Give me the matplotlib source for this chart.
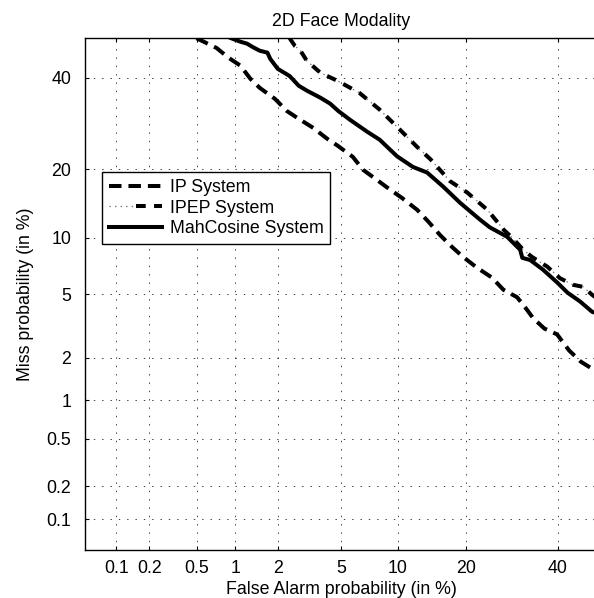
"""
DET curves for the 2D face modality (IP, IPEP and MahCosine systems)
"""

import math
import numpy as np
import matplotlib
matplotlib.use('Agg')
import matplotlib.pyplot as plt
from matplotlib.legend_handler import HandlerTuple
from statistics import NormalDist


#---------------------------------------------------------------------------------------------------
# Input Parameters
#---------------------------------------------------------------------------------------------------

# False alarm / miss probabilities (in %)
ip_fa = [0.5, 0.72, 0.89, 1.09, 1.29, 1.5, 1.92, 2.3, 2.7, 3.4, 4.13, 4.75, 5.8, 6.6, 7.85, 8.9,
         10.5, 12.35, 13.9, 15.6, 17.5, 19.4, 22.0, 24.9, 27.3, 30.3, 32.1, 34.0, 36.7, 39.8, 40.8,
         42.8, 45.8, 48.4, 50]
ip_miss = [50, 47.5, 45, 43, 39.7, 37.5, 34.8, 32, 30.4, 28.2, 25.9, 24.5, 22.3, 19.9, 18.1, 16.8,
           15.2, 13.5, 11.9, 10.3, 9.0, 8.0, 7.0, 6.2, 5.3, 4.8, 4.2, 3.6, 3.1, 2.85, 2.63,
           2.24, 1.88, 1.7, 1.65]

ipep_fa = [2.4, 2.6, 2.8, 3.1, 3.76, 4.75, 6.3, 8.1, 10.25, 12.3, 14.2, 17.2, 20.1, 24.0, 27.4,
           29.2, 31.7, 33.7, 37.4, 40.5, 43.8, 46.4, 48.7, 50]
ipep_miss = [50, 48, 47, 44.2, 41.2, 39.2, 36.3, 32.3, 27.8, 24.3, 21.8, 17.9, 16.1, 13.5, 10.9,
             10.0, 8.7, 8.0, 7.1, 6.15, 5.65, 5.5, 4.95, 4.7]

mah_fa = [0.93, 1.09, 1.22, 1.33, 1.5, 1.7, 1.78, 2.0, 2.4, 2.75, 3.1, 3.76, 4.3, 4.8, 5.6, 6.95,
          8.1, 9.9, 11.8, 13.7, 16.1, 18.9, 22.6, 24.5, 28.1, 31.0, 31.5, 33.3, 36.4, 39.9, 42.4,
          45.6, 48.7, 50]
mah_miss = [50, 49.1, 48.6, 47.8, 46.8, 46.3, 44.7, 42.2, 40.4, 38.0, 36.8, 35.1, 33.7, 32, 30,
            27.4, 25.7, 22.4, 20.4, 19.4, 17.0, 14.5, 12.15, 11.2, 10.1, 8.7, 7.9, 7.7, 6.83, 5.8,
            5.1, 4.53, 3.93, 3.85]

tick_vals = [0.1, 0.2, 0.5, 1, 2, 5, 10, 20, 40]
tick_labels = ['0.1', '0.2', '0.5', '1', '2', '5', '10', '20', '40']
lims = [0.05, 50]

save_fname = 'out.png'


#---------------------------------------------------------------------------------------------------
# Probit scale helpers
#---------------------------------------------------------------------------------------------------

_inv_cdf = np.vectorize(NormalDist().inv_cdf, otypes=[float])
_erf = np.vectorize(math.erf, otypes=[float])


def probit(pct):
    p = np.clip(np.asarray(pct, dtype=float) / 100., 1e-9, 1 - 1e-9)
    return _inv_cdf(p)


def inv_probit(z):
    z = np.asarray(z, dtype=float)
    return 100. * 0.5 * (1 + _erf(z / math.sqrt(2)))


#---------------------------------------------------------------------------------------------------
# Create Plot
#---------------------------------------------------------------------------------------------------

if __name__ == '__main__':

    plt.rcParams['font.family'] = ['Liberation Sans', 'DejaVu Sans']
    plt.rcParams['lines.scale_dashes'] = False
    fs = 12.8

    fig = plt.figure(figsize=(5.94, 5.98), dpi=100)
    ax = fig.add_axes([85.3/594, 47.8/598, 512/594, 512/598])

    ax.set_xscale('function', functions=(probit, inv_probit))
    ax.set_yscale('function', functions=(probit, inv_probit))

    lw = 2.9
    l_ip, = ax.plot(ip_fa, ip_miss, c='k', lw=lw, dashes=(9, 5), solid_capstyle='butt')
    l_ipep_dot, = ax.plot(ipep_fa, ipep_miss, c='0.45', lw=0.9, dashes=(1, 3))
    l_ipep, = ax.plot(ipep_fa, ipep_miss, c='k', lw=lw, dashes=(7, 6))
    l_mah, = ax.plot(mah_fa, mah_miss, c='k', lw=lw)

    ax.set_xlim(lims)
    ax.set_ylim(lims)
    ax.set_xticks(tick_vals)
    ax.set_xticklabels(tick_labels)
    ax.set_yticks(tick_vals)
    ax.set_yticklabels(tick_labels)
    ax.minorticks_off()
    ax.tick_params(direction='in', length=3, width=0.8, labelsize=fs, top=True, right=True)
    ax.tick_params(axis='y', pad=10)
    ax.tick_params(axis='x', pad=7)
    ax.grid(True, color='0.25', lw=0.7, linestyle=(0, (1, 5)))
    for sp in ax.spines.values():
        sp.set_linewidth(1.0)

    ax.set_title('2D Face Modality', fontsize=fs, pad=9)
    ax.set_xlabel('False Alarm probability (in %)', fontsize=fs, labelpad=3)
    ax.set_ylabel('Miss probability (in %)', fontsize=fs, labelpad=9)

    leg = ax.legend([l_ip, (l_ipep_dot, l_ipep), l_mah],
                    ['IP System', 'IPEP System', 'MahCosine System'],
                    handler_map={tuple: HandlerTuple(ndivide=None, pad=0)},
                    loc='upper left', bbox_to_anchor=(0.0326, 0.7387), borderaxespad=0,
                    fontsize=fs, fancybox=False, framealpha=1, edgecolor='k',
                    handlelength=3.0, handletextpad=0.4, borderpad=0.4, labelspacing=0.2)
    leg.get_frame().set_linewidth(1.0)

    plt.savefig(save_fname, dpi=100)
